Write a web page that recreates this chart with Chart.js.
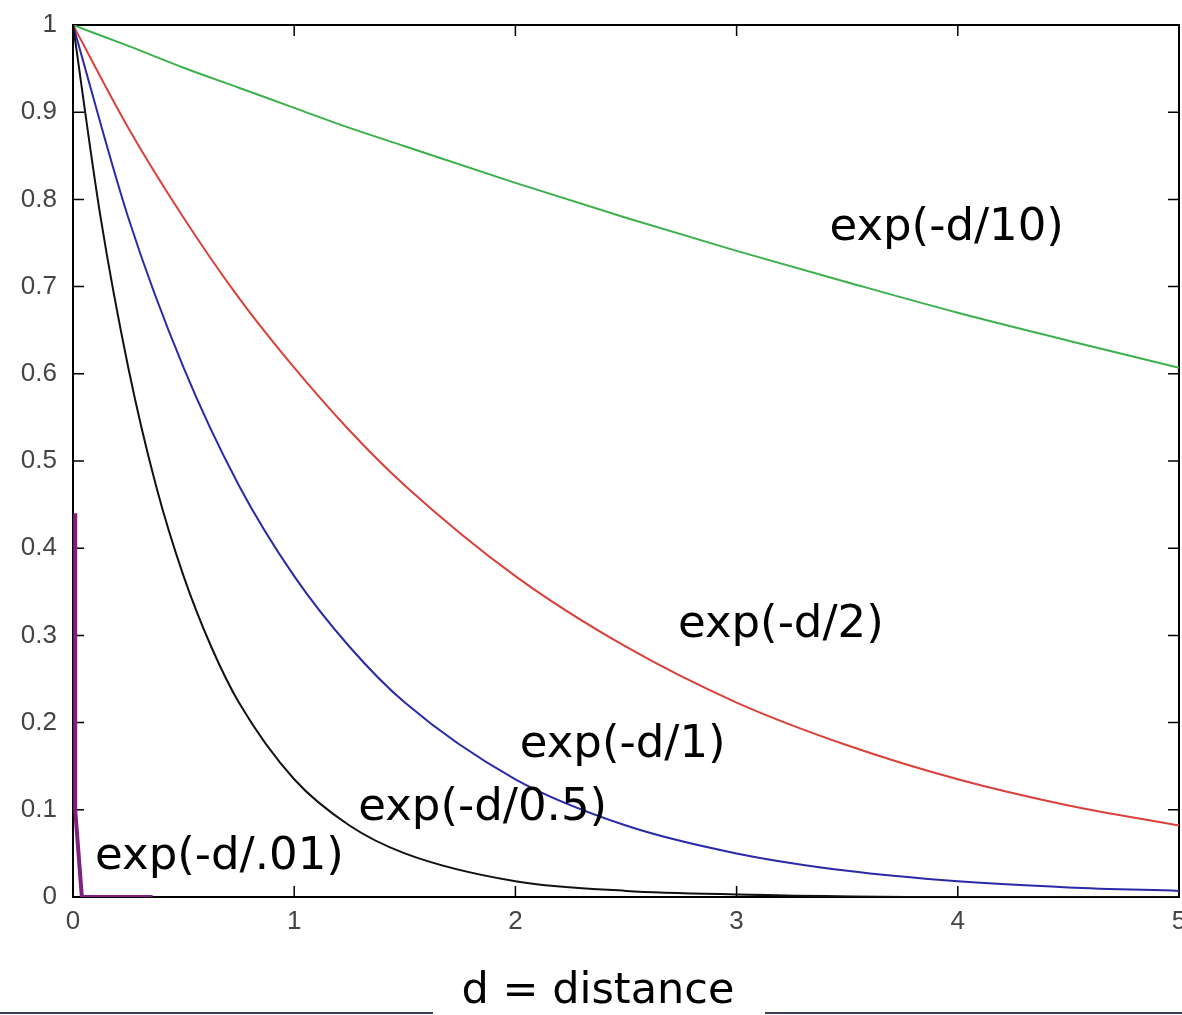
<!DOCTYPE html>
<html>
<head>
<meta charset="utf-8">
<script src="https://cdn.jsdelivr.net/npm/chart.js@4/dist/chart.umd.min.js"></script>
<style>
  html, body { margin: 0; padding: 0; background: #fff; }
  #wrap { width: 1182px; height: 1015px; position: relative; }
</style>
</head>
<body>
<div id="wrap"><canvas id="chart" width="1182" height="1015"></canvas></div>
<script>
const dSlow = [0, 0.25, 0.5, 0.75, 1, 1.25, 1.5, 2, 2.5, 3, 3.5, 4, 4.5, 5];
const dFast = [0, 0.125, 0.25, 0.375, 0.5, 0.625, 0.75, 1, 1.25, 1.5, 2, 2.5, 3, 4, 5];
const dSpike = [0.01, 0.01, 0.04, 0.36];

const y10 = [1.00, 0.976, 0.951, 0.928, 0.905, 0.882, 0.861, 0.819, 0.779, 0.741, 0.705, 0.670, 0.638, 0.607];
const y2 = [1.00, 0.882, 0.779, 0.687, 0.607, 0.535, 0.472, 0.368, 0.287, 0.223, 0.174, 0.135, 0.105, 0.082];
const y1 = [1.00, 0.779, 0.607, 0.472, 0.368, 0.287, 0.223, 0.135, 0.082, 0.05, 0.03, 0.018, 0.011, 0.007];
const y05 = [1.00, 0.779, 0.607, 0.472, 0.368, 0.287, 0.223, 0.135, 0.082, 0.05, 0.018, 0.007, 0.003, 0.0, 0.0];
const y001 = [0.44, 0.10, 0.0, 0.0];

// curve captions, placed in data units (left edge, vertical middle)
const captions = [
  { text: "exp(-d/10)", x: 3.42, y: 0.767 },
  { text: "exp(-d/2)", x: 2.735, y: 0.311 },
  { text: "exp(-d/1)", x: 2.02, y: 0.174 },
  { text: "exp(-d/0.5)", x: 1.29, y: 0.102 },
  { text: "exp(-d/.01)", x: 0.10, y: 0.045 }
];
const axisTitle = "d = distance";

const xTicks = [0, 1, 2, 3, 4, 5];
const yTicks = [0, 0.1, 0.2, 0.3, 0.4, 0.5, 0.6, 0.7, 0.8, 0.9, 1];

const pairs = (xs, ys) => xs.map((x, i) => ({ x: x, y: ys[i] }));

const labelFont = "45px 'DejaVu Sans', sans-serif";

const boxPlugin = {
  id: "matlabBox",
  beforeDatasetsDraw(chart) {
    const { ctx, chartArea: a, scales } = chart;
    ctx.save();
    ctx.strokeStyle = "#000";
    ctx.lineWidth = 2;
    ctx.strokeRect(a.left, a.top, a.right - a.left, a.bottom - a.top);
    // inward ticks on all four sides
    ctx.lineWidth = 1.5;
    const len = 11;
    ctx.beginPath();
    xTicks.forEach(v => {
      const px = scales.x.getPixelForValue(v);
      ctx.moveTo(px, a.bottom); ctx.lineTo(px, a.bottom - len);
      ctx.moveTo(px, a.top); ctx.lineTo(px, a.top + len);
    });
    yTicks.forEach(v => {
      const py = scales.y.getPixelForValue(v);
      ctx.moveTo(a.left, py); ctx.lineTo(a.left + len, py);
      ctx.moveTo(a.right, py); ctx.lineTo(a.right - len, py);
    });
    ctx.stroke();
    ctx.restore();
  },
  afterDatasetsDraw(chart) {
    const { ctx, scales } = chart;
    ctx.save();
    ctx.fillStyle = "#000";
    ctx.font = labelFont;
    ctx.textAlign = "left";
    ctx.textBaseline = "middle";
    captions.forEach(c => {
      ctx.fillText(c.text, scales.x.getPixelForValue(c.x), scales.y.getPixelForValue(c.y));
    });

    // axis title and the slide rule beside it
    ctx.font = "43px 'DejaVu Sans', sans-serif";
    ctx.textAlign = "center";
    ctx.fillText(axisTitle, 598, 992);
    ctx.strokeStyle = "#3a3f50";
    ctx.lineWidth = 2;
    ctx.beginPath();
    ctx.moveTo(0, 1013); ctx.lineTo(433, 1013);
    ctx.moveTo(765, 1013); ctx.lineTo(1182, 1013);
    ctx.stroke();
    ctx.restore();
  }
};

const line = (data, color, width) => ({
  data: data,
  borderColor: color,
  borderWidth: width,
  pointRadius: 0,
  fill: false,
  cubicInterpolationMode: "monotone"
});

const tickFont = { family: "'Liberation Sans', sans-serif", size: 26 };
const fmt = v => String(+v.toFixed(2));

new Chart(document.getElementById("chart"), {
  type: "line",
  data: {
    datasets: [
      { ...line(pairs(dSpike, y001), "#80207f", 4), cubicInterpolationMode: "default", tension: 0 },
      line(pairs(dFast, y05), "#111111", 2),
      line(pairs(dSlow, y1), "#2a2aa8", 2),
      line(pairs(dSlow, y2), "#d9413a", 2),
      line(pairs(dSlow, y10), "#3cb04c", 2)
    ]
  },
  options: {
    responsive: false,
    animation: false,
    layout: { padding: { top: 25, right: 3, left: 0, bottom: 0 } },
    plugins: { legend: { display: false }, tooltip: { enabled: false } },
    scales: {
      x: {
        type: "linear",
        min: 0,
        max: 5,
        grid: { display: false, drawTicks: false },
        border: { display: false },
        ticks: { stepSize: 1, padding: 9, color: "#444", font: tickFont, callback: fmt },
        afterFit(s) { s.height = 118; s.paddingLeft = 0; s.paddingRight = 0; }
      },
      y: {
        min: 0,
        max: 1,
        grid: { display: false, drawTicks: false },
        border: { display: false },
        ticks: { stepSize: 0.1, padding: 16, color: "#444", font: tickFont, callback: fmt },
        afterFit(s) { s.width = 73; s.paddingTop = 0; s.paddingBottom = 0; }
      }
    }
  },
  plugins: [boxPlugin]
});
</script>
</body>
</html>
